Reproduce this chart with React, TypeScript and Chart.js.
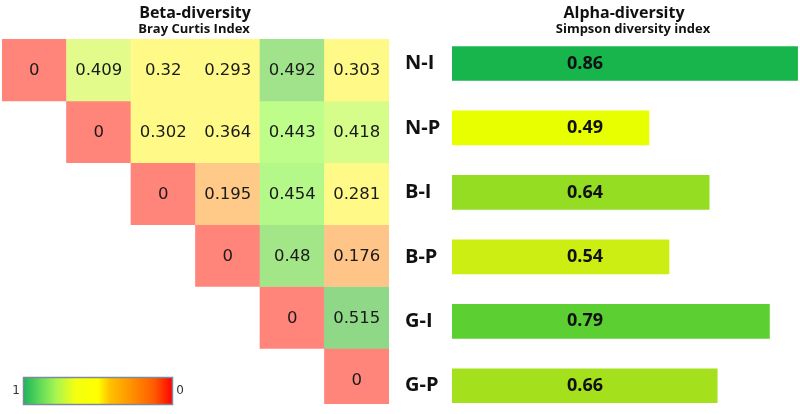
import React, { useEffect, useRef } from 'react';
import { Chart, registerables } from 'chart.js';

Chart.register(...registerables);

// ---------- data ----------
const heatColumns = ['N-I', 'N-P', 'B-I', 'B-P', 'G-I', 'G-P'];
const heatRow0 = [0, 0.409, 0.32, 0.293, 0.492, 0.303];
const heatRow1 = [0, 0.302, 0.364, 0.443, 0.418];
const heatRow2 = [0, 0.195, 0.454, 0.281];
const heatRow3 = [0, 0.48, 0.176];
const heatRow4 = [0, 0.515];
const heatRow5 = [0];
const heatRows = [heatRow0, heatRow1, heatRow2, heatRow3, heatRow4, heatRow5];

const alphaLabels = ['N-I', 'N-P', 'B-I', 'B-P', 'G-I', 'G-P'];
const alphaValues = [0.86, 0.49, 0.64, 0.54, 0.79, 0.66];
const alphaColors = ['#17B54B', '#E8FF00', '#94DD22', '#CDEE12', '#5CCF33', '#A4E11C'];

const colorbarLeftLabel = '1';
const colorbarRightLabel = '0';

// colour scale of the heat map (value -> colour)
const heatStops: [number, string][] = [
  [0, '#FF857A'],
  [0.176, '#FFC487'],
  [0.195, '#FFCA87'],
  [0.281, '#FFFA87'],
  [0.364, '#FFFA87'],
  [0.409, '#E3FB8A'],
  [0.418, '#D6FD8A'],
  [0.443, '#BEFD8A'],
  [0.454, '#B4F88A'],
  [0.48, '#A2E687'],
  [0.492, '#A0E38A'],
  [0.515, '#8ED888'],
];

function hexToRgb(h: string) {
  const n = parseInt(h.slice(1), 16);
  return [(n >> 16) & 255, (n >> 8) & 255, n & 255];
}
function heatColor(v: number) {
  if (v <= heatStops[0][0]) return heatStops[0][1];
  for (let i = 1; i < heatStops.length; i++) {
    const [v1, c1] = heatStops[i];
    const [v0, c0] = heatStops[i - 1];
    if (v <= v1) {
      const t = (v - v0) / (v1 - v0 || 1);
      const a = hexToRgb(c0), b = hexToRgb(c1);
      const m = a.map((x, k) => Math.round(x + (b[k] - x) * t));
      return `rgb(${m[0]},${m[1]},${m[2]})`;
    }
  }
  return heatStops[heatStops.length - 1][1];
}

const gradientStops: [number, string][] = [
  [0, '#1DB45C'],
  [0.12, '#66DD5A'],
  [0.22, '#A8F550'],
  [0.35, '#F5FF10'],
  [0.5, '#FFFF00'],
  [0.58, '#FFC000'],
  [0.7, '#FF9A00'],
  [0.88, '#FF5A00'],
  [1, '#FF0000'],
];

const TITLE_FONT = '"Open Sans", "Noto Sans", sans-serif';
const CELL_FONT = '"DejaVu Sans", Verdana, sans-serif';

export default function App() {
  const leftRef = useRef<HTMLCanvasElement | null>(null);
  const rightRef = useRef<HTMLCanvasElement | null>(null);

  useEffect(() => {
    if (!leftRef.current || !rightRef.current) return;

    const heatDatasets = heatRows.map((row, r) => ({
      label: 'row' + r,
      data: heatColumns.map((_, c) => (c >= r ? [r, r + 1] : null)) as any,
      backgroundColor: heatColumns.map((_, c) => (c >= r ? heatColor(row[c - r]) : 'rgba(0,0,0,0)')),
      borderWidth: 0,
      barPercentage: 1,
      categoryPercentage: 1,
      grouped: false,
    }));

    const heatTextPlugin = {
      id: 'heatText',
      afterDatasetsDraw(chart: any) {
        const { ctx, scales } = chart;
        const xs = scales.x, ys = scales.y;
        ctx.save();
        ctx.fillStyle = '#1A1A1A';
        ctx.font = `16.5px ${CELL_FONT}`;
        ctx.textAlign = 'center';
        ctx.textBaseline = 'middle';
        heatRows.forEach((row, r) => {
          row.forEach((v, i) => {
            const c = r + i;
            ctx.fillText(String(v), xs.getPixelForValue(c), ys.getPixelForValue(r + 0.5) + 1);
          });
        });
        ctx.restore();
      },
      afterDraw(chart: any) {
        const { ctx } = chart;
        ctx.save();
        ctx.fillStyle = '#111';
        ctx.textAlign = 'center';
        ctx.textBaseline = 'alphabetic';
        ctx.font = `bold 16px ${TITLE_FONT}`;
        ctx.fillText('Beta-diversity', 195, 18);
        ctx.font = `bold 13px ${TITLE_FONT}`;
        ctx.fillText('Bray Curtis Index', 194, 33);
        // colour bar
        const x0 = 23.5, y0 = 377.5, w = 149, h = 27;
        const g = ctx.createLinearGradient(x0, 0, x0 + w, 0);
        gradientStops.forEach(([o, c]) => g.addColorStop(o, c));
        ctx.fillStyle = g;
        ctx.fillRect(x0, y0, w, h);
        ctx.strokeStyle = '#7C8B9A';
        ctx.lineWidth = 1.5;
        ctx.strokeRect(x0, y0, w, h);
        ctx.fillStyle = '#333';
        ctx.font = `12px ${CELL_FONT}`;
        ctx.textBaseline = 'middle';
        ctx.textAlign = 'center';
        ctx.fillText(colorbarLeftLabel, 16, 391);
        ctx.fillText(colorbarRightLabel, 180, 391);
        ctx.restore();
      },
    };

    const left = new Chart(leftRef.current, {
      type: 'bar',
      data: { labels: heatColumns, datasets: heatDatasets },
      options: {
        responsive: false,
        animation: false,
        events: [],
        layout: { padding: { left: 2, right: 3, top: 39, bottom: 10 } },
        plugins: { legend: { display: false }, tooltip: { enabled: false }, title: { display: false } },
        scales: {
          x: { display: false },
          y: { type: 'linear', display: false, min: 0, max: 5.9, reverse: true },
        },
      },
      plugins: [heatTextPlugin],
    } as any);

    const barLabelPlugin = {
      id: 'barLabels',
      afterDatasetsDraw(chart: any) {
        const { ctx, scales } = chart;
        const meta = chart.getDatasetMeta(0);
        ctx.save();
        ctx.fillStyle = '#111';
        ctx.font = `bold 18px ${TITLE_FONT}`;
        ctx.textAlign = 'center';
        ctx.textBaseline = 'middle';
        meta.data.forEach((el: any, i: number) => {
          ctx.fillText(alphaValues[i].toFixed(2), scales.x.getPixelForValue(0.331), el.y);
        });
        ctx.restore();
      },
      afterDraw(chart: any) {
        const { ctx } = chart;
        ctx.save();
        ctx.fillStyle = '#111';
        ctx.textAlign = 'center';
        ctx.textBaseline = 'alphabetic';
        ctx.font = `bold 16px ${TITLE_FONT}`;
        ctx.fillText('Alpha-diversity', 232, 18);
        ctx.font = `bold 13px ${TITLE_FONT}`;
        ctx.fillText('Simpson diversity index', 241, 33);
        ctx.restore();
      },
    };

    const right = new Chart(rightRef.current, {
      type: 'bar',
      data: {
        labels: alphaLabels,
        datasets: [
          {
            data: alphaValues,
            backgroundColor: alphaColors,
            borderWidth: 0,
            barThickness: 34,
          },
        ],
      },
      options: {
        indexAxis: 'y',
        responsive: false,
        animation: false,
        events: [],
        layout: { padding: { left: 13, right: 0, top: 31.25, bottom: 0 } },
        plugins: { legend: { display: false }, tooltip: { enabled: false } },
        scales: {
          x: { display: false, min: 0, max: 0.866 },
          y: {
            grid: { display: false },
            border: { display: false },
            ticks: {
              crossAlign: 'far',
              padding: 0,
              color: '#111',
              font: { family: TITLE_FONT, weight: 'bold', size: 20, lineHeight: 1.2 },
            },
            afterFit: (scale: any) => {
              scale.width = 47;
            },
          },
        },
      },
      plugins: [barLabelPlugin],
    } as any);

    return () => {
      left.destroy();
      right.destroy();
    };
  }, []);

  return (
    <div
      style={{
        position: 'fixed',
        left: 0,
        top: 0,
        width: 800,
        height: 414,
        overflow: 'hidden',
        background: '#fff',
      }}
    >
      <canvas ref={leftRef} width={392} height={414} style={{ position: 'absolute', left: 0, top: 0 }} />
      <canvas ref={rightRef} width={408} height={430} style={{ position: 'absolute', left: 392, top: 0 }} />
    </div>
  );
}
